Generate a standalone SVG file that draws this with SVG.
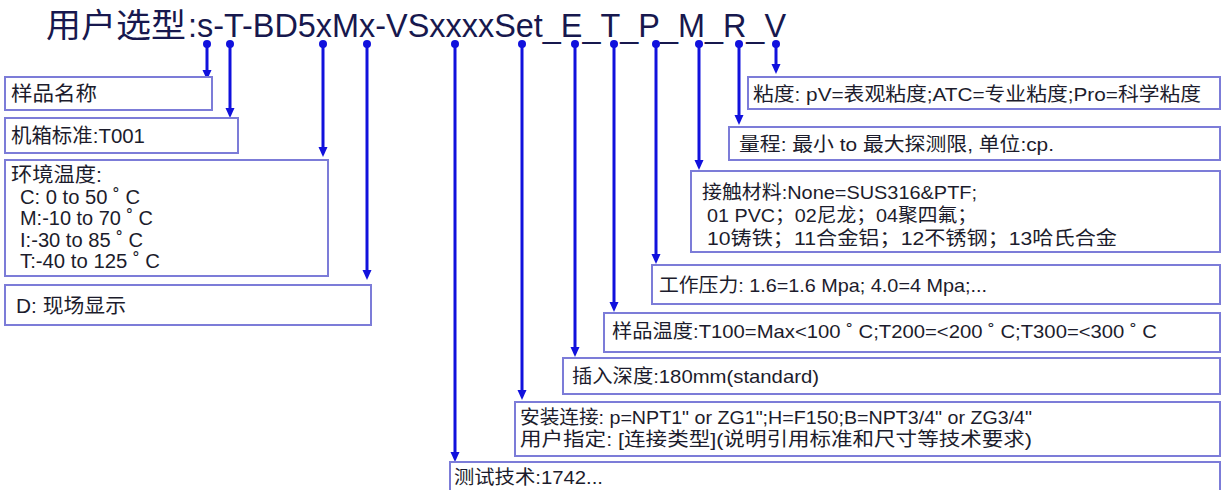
<svg xmlns="http://www.w3.org/2000/svg" width="1223" height="490" viewBox="0 0 1223 490">
<style>
.bx{fill:#ffffff;stroke:#7c7cd8;stroke-width:2}
.t{font-family:"Liberation Sans","Noto Sans CJK SC",sans-serif;font-size:19px;fill:#1c1c2c}
.tl{font-family:"Liberation Sans","Noto Sans CJK SC",sans-serif;font-size:20px;fill:#1c1c2c}
.title{font-family:"Liberation Sans","Noto Sans CJK SC",sans-serif;fill:#17184e}
.c{stroke:#1111dd;stroke-width:3;fill:none;marker-start:url(#dot);marker-end:url(#arr)}
</style>
<defs>
<marker id="arr" markerUnits="userSpaceOnUse" markerWidth="10" markerHeight="10" refX="3" refY="5" orient="auto">
<path d="M0,0.5 L10,5 L0,9.5 z" fill="#1111dd"/>
</marker>
<marker id="dot" markerUnits="userSpaceOnUse" markerWidth="10" markerHeight="10" refX="5" refY="5">
<circle cx="5" cy="5" r="4" fill="#1111dd"/>
</marker>
</defs>
<rect width="1223" height="490" fill="#ffffff"/>
<g id="title">
<text class="title" x="46" y="37" font-size="33" textLength="140" lengthAdjust="spacingAndGlyphs">用户选型</text>
<text class="title" x="188" y="37" font-size="33" textLength="598" lengthAdjust="spacingAndGlyphs">:s-T-BD5xMx-VSxxxxSet_E_T_P_M_R_V</text>
</g>
<g id="connectors">
<path class="c" d="M207,44 V73"/>
<path class="c" d="M230,44 V111"/>
<path class="c" d="M323,44 V150"/>
<path class="c" d="M367,44 V273"/>
<path class="c" d="M455,44 V455"/>
<path class="c" d="M522,44 V393"/>
<path class="c" d="M575,44 V350"/>
<path class="c" d="M614,44 V305"/>
<path class="c" d="M656,44 V257"/>
<path class="c" d="M699,44 V163"/>
<path class="c" d="M739,44 V118"/>
<path class="c" d="M776,44 V67"/>
</g>
<g id="n-sample-name">
<rect class="bx" x="5" y="77" width="207" height="33"/>
<text class="tl" x="11" y="101" textLength="86" lengthAdjust="spacingAndGlyphs">样品名称</text>
</g>
<g id="n-case">
<rect class="bx" x="5" y="118" width="233" height="35"/>
<text class="tl" x="11" y="143" textLength="134" lengthAdjust="spacingAndGlyphs">机箱标准:T001</text>
</g>
<g id="n-ambient">
<rect class="bx" x="5" y="160" width="323" height="116"/>
<text class="tl" x="11" y="182" textLength="91" lengthAdjust="spacingAndGlyphs">环境温度:</text>
<text class="tl" x="20" y="204" textLength="120" lengthAdjust="spacingAndGlyphs">C: 0 to 50 ˚ C</text>
<text class="tl" x="20" y="225" textLength="133" lengthAdjust="spacingAndGlyphs">M:-10 to 70 ˚ C</text>
<text class="tl" x="20" y="247" textLength="123" lengthAdjust="spacingAndGlyphs">I:-30 to 85 ˚ C</text>
<text class="tl" x="20" y="268" textLength="140" lengthAdjust="spacingAndGlyphs">T:-40 to 125 ˚ C</text>
</g>
<g id="n-display">
<rect class="bx" x="5" y="285" width="366" height="40"/>
<text class="tl" x="16" y="313" textLength="110" lengthAdjust="spacingAndGlyphs">D: 现场显示</text>
</g>
<g id="n-viscosity">
<rect class="bx" x="748" y="77" width="472" height="32"/>
<text class="t" x="753" y="101" textLength="448" lengthAdjust="spacingAndGlyphs">粘度: pV=表观粘度;ATC=专业粘度;Pro=科学粘度</text>
</g>
<g id="n-range">
<rect class="bx" x="729" y="127" width="491" height="33"/>
<text class="t" x="739" y="151" textLength="315" lengthAdjust="spacingAndGlyphs">量程: 最小 to 最大探测限, 单位:cp.</text>
</g>
<g id="n-material">
<rect class="bx" x="691" y="171" width="529" height="81"/>
<text class="t" x="702" y="199" textLength="275" lengthAdjust="spacingAndGlyphs">接触材料:None=SUS316&amp;PTF;</text>
<text class="t" x="707" y="222" textLength="270" lengthAdjust="spacingAndGlyphs">01 PVC；02尼龙；04聚四氟；</text>
<text class="t" x="707" y="245" textLength="410" lengthAdjust="spacingAndGlyphs">10铸铁；11合金铝；12不锈钢；13哈氏合金</text>
</g>
<g id="n-pressure">
<rect class="bx" x="652" y="265" width="568" height="39"/>
<text class="t" x="659" y="292" textLength="328" lengthAdjust="spacingAndGlyphs">工作压力: 1.6=1.6 Mpa; 4.0=4 Mpa;...</text>
</g>
<g id="n-sample-temp">
<rect class="bx" x="604" y="313" width="616" height="39"/>
<text class="t" x="612" y="338" textLength="545" lengthAdjust="spacingAndGlyphs">样品温度:T100=Max&lt;100 ˚ C;T200=&lt;200 ˚ C;T300=&lt;300 ˚ C</text>
</g>
<g id="n-depth">
<rect class="bx" x="563" y="358" width="657" height="36"/>
<text class="t" x="572" y="383" textLength="247" lengthAdjust="spacingAndGlyphs">插入深度:180mm(standard)</text>
</g>
<g id="n-connection">
<rect class="bx" x="515" y="402" width="705" height="54"/>
<text class="t" x="520" y="424" textLength="512" lengthAdjust="spacingAndGlyphs">安装连接: p=NPT1" or ZG1";H=F150;B=NPT3/4" or ZG3/4"</text>
<text class="t" x="520" y="446" textLength="512" lengthAdjust="spacingAndGlyphs">用户指定: [连接类型](说明引用标准和尺寸等技术要求)</text>
</g>
<g id="n-test">
<rect class="bx" x="450" y="462" width="770" height="40"/>
<text class="t" x="454" y="484" textLength="149" lengthAdjust="spacingAndGlyphs">测试技术:1742...</text>
</g>
</svg>
